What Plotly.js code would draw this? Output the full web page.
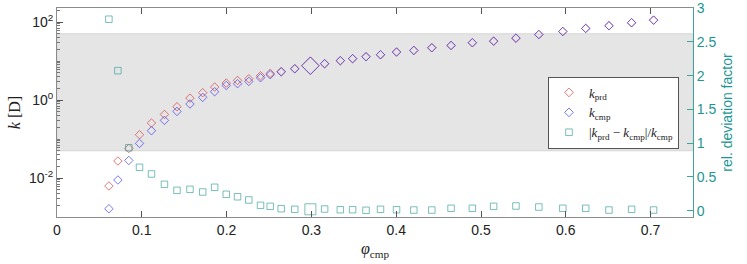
<!DOCTYPE html>
<html><head><meta charset="utf-8">
<script src="https://cdn.plot.ly/plotly-3.0.1.min.js"></script>
<style>html,body{margin:0;padding:0;background:#fff}#chart{width:747px;height:264px}</style>
</head><body><div id="chart"></div>
<script>
// ---- data ----
const phi = [0.0612, 0.0718, 0.0847, 0.0973, 0.1114, 0.1267, 0.1415, 0.1568, 0.1718, 0.1859,
             0.1996, 0.2129, 0.2262, 0.2400, 0.2514, 0.2644, 0.2804, 0.2988, 0.3156, 0.3341,
             0.3486, 0.3644, 0.3815, 0.4004, 0.4208, 0.4420, 0.4647, 0.4898, 0.5149, 0.5412,
             0.5682, 0.5965, 0.6235, 0.6509, 0.6776, 0.7035];
const kPrd = [0.00624, 0.0273, 0.0574, 0.129, 0.257, 0.427, 0.673, 1.12, 1.54, 2.15,
              2.73, 3.18, 3.52, 4.20, 4.81, 5.40, 6.40, 7.60, 8.55, 10.2,
              11.5, 12.9, 14.5, 17.0, 18.7, 21.9, 25.1, 29.5, 32.0, 38.2,
              47.5, 57.0, 68.6, 80.4, 96.0, 112];
const kCmp = [0.00163, 0.0089, 0.0282, 0.0771, 0.163, 0.300, 0.510, 0.79, 1.17, 1.63,
              2.37, 2.62, 3.00, 3.73, 4.46, 5.25, 6.30, 7.57, 8.53, 10.2,
              11.5, 12.9, 14.5, 17.0, 18.7, 21.9, 25.1, 29.5, 32.6, 38.9,
              48.1, 57.4, 68.6, 80.4, 96.0, 112];
const relDev = [2.836, 2.074, 0.933, 0.643, 0.544, 0.391, 0.302, 0.317, 0.277, 0.347,
                0.243, 0.207, 0.159, 0.080, 0.065, 0.030, 0.021, 0.021, 0.025, 0.015,
                0.015, 0.006, 0.021, 0.015, 0.010, 0.010, 0.036, 0.036, 0.065, 0.070,
                0.055, 0.036, 0.036, 0.010, 0.021, 0.010];
const highlightIndex = 17;          // the enlarged point at phi ~ 0.3
const bandRange = [0.05, 50];       // shaded band on k axis
const xTicks = [0, 0.1, 0.2, 0.3, 0.4, 0.5, 0.6, 0.7];
const yTickVals = [0.01, 1, 100];
const yTickText = ['10<sup>-2</sup>', '10<sup>0</sup>', '10<sup>2</sup>'];
const y2Ticks = [0, 0.5, 1, 1.5, 2, 2.5, 3];

// ---- styling ----
const RED = 'rgb(216,64,64)', BLUE = 'rgb(64,64,240)', TEAL = 'rgb(64,164,158)';
const TEAL_TXT = 'rgb(28,150,146)';
const sizeFor = (base, big) => phi.map((_, i) => i === highlightIndex ? big : base);

const minorVals = [];
for (let e = -3; e <= 2; e++) for (let m = 1; m <= 9; m++) {
  const v = m * Math.pow(10, e);
  if (!(m === 1 && (e % 2 === 0))) minorVals.push(v);
}

const serif = 'Liberation Serif, DejaVu Serif, serif';
const sans = 'Liberation Sans, Arial, sans-serif';

const traces = [
  {x: phi, y: kPrd, type: 'scatter', mode: 'markers', name: '<i>k</i><sub>prd</sub>',
   marker: {symbol: 'diamond-open', size: sizeFor(6.5, 13.5), color: RED, line: {width: 1, color: RED}}},
  {x: phi, y: kCmp, type: 'scatter', mode: 'markers', name: '<i>k</i><sub>cmp</sub>',
   marker: {symbol: 'diamond-open', size: sizeFor(6.5, 13.5), color: BLUE, line: {width: 1, color: BLUE}}},
  {x: phi, y: relDev, type: 'scatter', mode: 'markers', yaxis: 'y2',
   name: '|<i>k</i><sub>prd</sub> − <i>k</i><sub>cmp</sub>|/<i>k</i><sub>cmp</sub>',
   marker: {symbol: 'square-open', size: sizeFor(6.5, 11), color: TEAL, line: {width: 1, color: TEAL}}}
];

const layout = {
  width: 747, height: 264,
  margin: {l: 57, r: 54, t: 8, b: 47},
  paper_bgcolor: '#fff', plot_bgcolor: '#fff',
  showlegend: true,
  legend: {x: 0.772, y: 0.50, xanchor: 'left', yanchor: 'middle',
           bgcolor: '#fff', bordercolor: '#555', borderwidth: 1,
           font: {family: serif, size: 13, color: '#222'}, tracegroupgap: 0},
  xaxis: {range: [0, 0.75], tickvals: xTicks, ticktext: xTicks.map(v => String(v)),
          ticks: 'inside', ticklen: 6, tickcolor: '#555', mirror: 'ticks',
          showline: true, linecolor: '#8c8c8c', linewidth: 1, showgrid: false, zeroline: false,
          tickfont: {family: sans, size: 14, color: '#222'},
          title: {text: '<i>φ</i><sub>cmp</sub>', font: {family: serif, size: 16, color: '#222'}, standoff: 6}},
  yaxis: {type: 'log', range: [-3, 2.36], tickvals: yTickVals, ticktext: yTickText,
          ticks: 'inside', ticklen: 6, tickcolor: '#555',
          minor: {tickvals: minorVals, ticks: 'inside', ticklen: 3, tickcolor: '#777'},
          showline: true, linecolor: '#8c8c8c', linewidth: 1, showgrid: false, zeroline: false,
          tickfont: {family: sans, size: 14, color: '#222'},
          title: {text: '<i>k</i> [D]', font: {family: serif, size: 16, color: '#222'}, standoff: 4}},
  yaxis2: {overlaying: 'y', side: 'right', range: [-0.093, 3.002], tickvals: y2Ticks,
           ticks: 'inside', ticklen: 6, tickcolor: TEAL,
           showline: true, linecolor: TEAL, linewidth: 1, showgrid: false, zeroline: false,
           tickfont: {family: sans, size: 14, color: TEAL_TXT},
           title: {text: 'rel. deviation factor', font: {family: sans, size: 14, color: TEAL_TXT}, standoff: 6}},
  shapes: [{type: 'rect', xref: 'paper', yref: 'y', x0: 0, x1: 1,
            y0: bandRange[0], y1: bandRange[1], layer: 'below',
            fillcolor: 'rgb(229,229,229)', line: {color: 'rgb(214,214,214)', width: 1}}]
};

Plotly.newPlot('chart', traces, layout, {displayModeBar: false, staticPlot: true});
</script>
</body></html>
